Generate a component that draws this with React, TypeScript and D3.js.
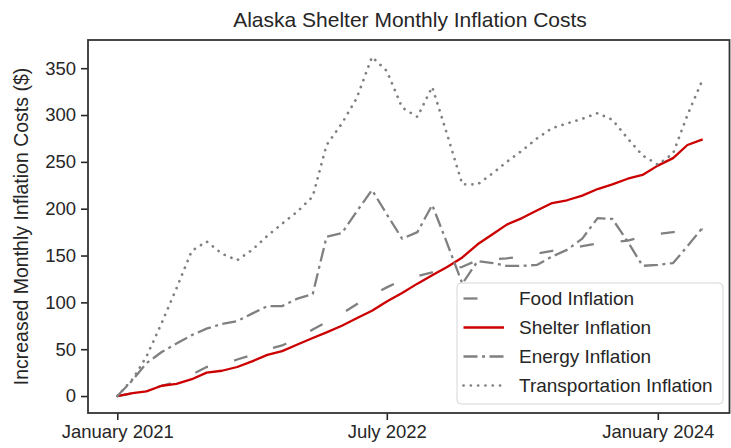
import React from "react";
import * as d3 from "d3";

// monthly points, Jan 2021 - Apr 2024
const months = [
  "2021-01", "2021-02", "2021-03", "2021-04", "2021-05", "2021-06", "2021-07", "2021-08",
  "2021-09", "2021-10", "2021-11", "2021-12", "2022-01", "2022-02", "2022-03", "2022-04",
  "2022-05", "2022-06", "2022-07", "2022-08", "2022-09", "2022-10", "2022-11", "2022-12",
  "2023-01", "2023-02", "2023-03", "2023-04", "2023-05", "2023-06", "2023-07", "2023-08",
  "2023-09", "2023-10", "2023-11", "2023-12", "2024-01", "2024-02", "2024-03", "2024-04",
];

const food = [
  0, 3, 6, 11, 15, 23, 31, 33, 39, 44, 50, 54, 62, 71, 79, 88, 98, 108, 116, 124,
  128, 132, 134, 138, 145, 146, 147, 149, 152, 155, 157, 160, 163, 164, 166, 170, 173, 175, 177, 178,
];
const shelter = [
  0, 3, 5, 11, 13, 18, 25, 27, 31, 37, 44, 48, 55, 62, 68, 75, 83, 91, 101, 110,
  120, 129, 138, 148, 162, 173, 183, 190, 198, 206, 209, 214, 221, 226, 232, 236, 246, 254, 268, 274,
];
const energy = [
  0, 17, 35, 47, 56, 65, 72, 77, 80, 88, 96, 96, 104, 109, 170, 174, 197, 220, 194, 168,
  175, 204, 162, 120, 144, 142, 139, 139, 140, 149, 156, 168, 190, 189, 165, 139, 140, 142, 160, 180,
];
const transportation = [
  0, 18, 42, 78, 115, 155, 165, 152, 145, 156, 171, 184, 197, 213, 268, 291, 318, 362, 347, 308,
  298, 330, 278, 226, 226, 238, 250, 262, 275, 286, 291, 296, 302, 295, 275, 257, 247, 259, 300, 338,
];

const seriesNames = ["Food Inflation", "Shelter Inflation", "Energy Inflation", "Transportation Inflation"];
const seriesValues = [food, shelter, energy, transportation];
const seriesColors = ["#808080", "#cc0000", "#808080", "#808080"];
const seriesDashes = ["14,27", null, "14,4.5,3,4.5", "0.1,7.2"];

const xTickMonths = ["2021-01", "2022-07", "2024-01"];
const yTicks = [0, 50, 100, 150, 200, 250, 300, 350];

const WIDTH = 731;
const HEIGHT = 448;
const FONT = "'Liberation Sans', Arial, sans-serif";
const TEXT = "#262626";

const parseMonth = d3.timeParse("%Y-%m");

const InflationChart = () => {
  const svgRef = React.useRef<SVGSVGElement>(null);

  React.useEffect(() => {
    const svg = d3.select(svgRef.current);
    svg.selectAll("*").remove();

    const left = 88, top = 40, bottom = 413, right = 732;
    const dates = months.map(m => parseMonth(m) as Date);

    const t0 = +dates[0], t1 = +dates[dates.length - 1];
    const xPad = (t1 - t0) * 0.05;
    const x = d3.scaleTime().domain([new Date(t0 - xPad), new Date(t1 + xPad)]).range([left, right]);

    const yMax = d3.max(seriesValues.flat()) as number;
    const yPad = yMax * 0.05;
    const y = d3.scaleLinear().domain([-yPad, yMax + yPad]).range([bottom, top]);

    svg.style("font-family", FONT);

    // title
    svg.append("text")
      .attr("x", (left + right) / 2)
      .attr("y", 27)
      .attr("text-anchor", "middle")
      .style("font-size", "21px")
      .style("fill", TEXT)
      .text("Alaska Shelter Monthly Inflation Costs");

    // y label
    svg.append("text")
      .attr("transform", `translate(28, ${(top + bottom) / 2}) rotate(-90)`)
      .attr("text-anchor", "middle")
      .style("font-size", "19.5px")
      .style("fill", TEXT)
      .text("Increased Monthly Inflation Costs ($)");

    // axes
    const xAxis = svg.append("g")
      .attr("transform", `translate(0,${bottom})`)
      .call(
        d3.axisBottom(x)
          .tickValues(xTickMonths.map(m => parseMonth(m) as Date))
          .tickFormat(d3.timeFormat("%B %Y") as any)
          .tickSize(7)
          .tickPadding(5)
      );
    const yAxis = svg.append("g")
      .attr("transform", `translate(${left},0)`)
      .call(d3.axisLeft(y).tickValues(yTicks).tickSize(7).tickPadding(5));

    [xAxis, yAxis].forEach(ax => {
      ax.select(".domain").remove();
      ax.selectAll(".tick line").attr("stroke", TEXT).attr("stroke-width", 1.6);
      ax.selectAll(".tick text")
        .style("font-size", "18.5px")
        .style("font-family", FONT)
        .attr("fill", TEXT);
    });

    // lines
    const line = d3.line<number>()
      .x((_, i) => x(dates[i]))
      .y(d => y(d));

    const styleStroke = (sel: any, k: number) => {
      sel.attr("stroke", seriesColors[k]).attr("stroke-width", k === 3 ? 2.7 : 2.3);
      if (seriesDashes[k]) sel.attr("stroke-dasharray", seriesDashes[k] as string);
      if (k === 3) sel.attr("stroke-linecap", "round");
    };

    seriesValues.forEach((vals, k) => {
      const p = svg.append("path")
        .datum(vals)
        .attr("fill", "none")
        .attr("stroke-linejoin", "round")
        .attr("d", line);
      styleStroke(p, k);
    });

    // frame
    const frameRight = Math.min(right, WIDTH - 1.5);
    svg.append("rect")
      .attr("x", left)
      .attr("y", top)
      .attr("width", frameRight - left)
      .attr("height", bottom - top)
      .attr("fill", "none")
      .attr("stroke", "#333")
      .attr("stroke-width", 1.8);

    // legend
    const lg = svg.append("g").attr("transform", "translate(457,283)");
    lg.append("rect")
      .attr("width", 266)
      .attr("height", 121)
      .attr("rx", 4)
      .attr("fill", "white")
      .attr("fill-opacity", 0.8)
      .attr("stroke", "#d6d6d6");
    seriesNames.forEach((name, k) => {
      const cy = 15.5 + k * 29;
      const h = lg.append("line")
        .attr("x1", 6.5)
        .attr("x2", 47)
        .attr("y1", cy)
        .attr("y2", cy);
      styleStroke(h, k);
      lg.append("text")
        .attr("x", 62)
        .attr("y", cy + 6.8)
        .style("font-size", "19px")
        .style("fill", TEXT)
        .text(name);
    });
  }, []);

  return <svg ref={svgRef} width={WIDTH} height={HEIGHT} style={{ display: "block" }} />;
};

export default function App() {
  return (
    <div style={{ position: "absolute", left: 0, top: 0, background: "white" }}>
      <InflationChart />
    </div>
  );
}
